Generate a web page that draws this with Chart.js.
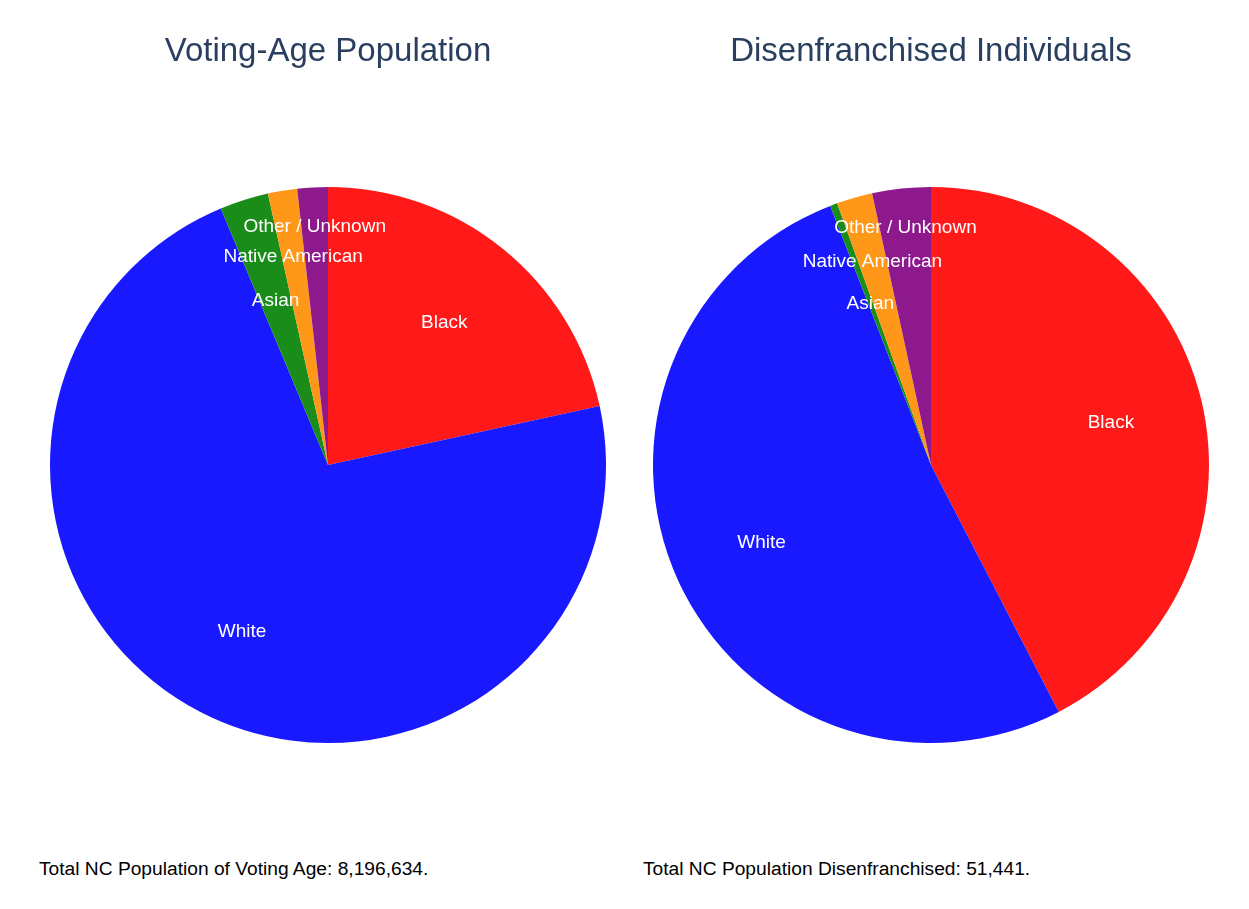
<!DOCTYPE html>
<html>
<head>
<meta charset="utf-8">
<script src="https://cdn.jsdelivr.net/npm/chart.js@4/dist/chart.umd.min.js"></script>
<style>
body{margin:0;background:#fff;font-family:"Liberation Sans",Arial,sans-serif;}
.panel{position:absolute;top:0;height:800px;}
#leftPanel{left:0;width:624px;}
#rightPanel{left:624px;width:625px;}
.note{position:absolute;top:858px;font-size:19.2px;color:#000;white-space:nowrap;}
</style>
</head>
<body>

<div class="panel" id="leftPanel"><canvas id="votingChart"></canvas></div>
<div class="panel" id="rightPanel"><canvas id="disenfranchisedChart"></canvas></div>

<div class="note" style="left:39px;">Total NC Population of Voting Age: 8,196,634.</div>
<div class="note" style="left:643px;">Total NC Population Disenfranchised: 51,441.</div>

<script>

// -------------------------------------
// DATA (share of each group, %)
// -------------------------------------

const groups = ["Black", "White", "Asian", "Native American", "Other / Unknown"];

const votingAgeShare = [21.6, 72.1, 2.83, 1.7, 1.77];
const disenfranchisedShare = [42.4, 51.7, 0.42, 2.08, 3.4];

const groupColors = ["#ff1919", "#1919ff", "#198c19", "#ff9719", "#8d198d"];


// -------------------------------------
// SLICE LABELS (text inside the slices)
// -------------------------------------

const sliceLabels = {

id: "sliceLabels",

afterDatasetsDraw(chart, args, opts){

const ctx = chart.ctx;
const meta = chart.getDatasetMeta(0);
const names = chart.data.labels;

ctx.save();
ctx.font = "19px 'Liberation Sans', Arial, sans-serif";
ctx.fillStyle = "#ffffff";
ctx.textAlign = "center";
ctx.textBaseline = "middle";

meta.data.forEach((arc, i) => {

const p = arc.getProps(["x", "y", "startAngle", "endAngle", "outerRadius"], true);
const mid = (p.startAngle + p.endAngle) / 2;
const r = p.outerRadius * opts.radius[i];

ctx.fillText(names[i], p.x + Math.cos(mid) * r, p.y + Math.sin(mid) * r + 1.5);

});

ctx.restore();

}

};


// -------------------------------------
// PIE BUILDER
// -------------------------------------

function buildPie(canvasId, title, values, padLeft, padRight){

const ctx = document.getElementById(canvasId).getContext("2d");

return new Chart(ctx, {

type: "pie",

data: {
labels: groups,
datasets: [{
data: values,
backgroundColor: groupColors,
borderWidth: 0,
hoverOffset: 0
}]
},

options: {
responsive: true,
maintainAspectRatio: false,
animation: false,
layout: {
padding: { left: padLeft, right: padRight, top: 0, bottom: 57 }
},
plugins: {
legend: { display: false },
tooltip: { enabled: false },
title: {
display: true,
text: title,
color: "#2a3f5f",
font: { family: "'Liberation Sans', Arial, sans-serif", size: 33, weight: "normal", lineHeight: 1.2 },
padding: { top: 32, bottom: 115.4 }
},
sliceLabels: {
radius: [0.666, 0.669, 0.624, 0.766, 0.863]
}
}
},

plugins: [sliceLabels]

});

}


buildPie("votingChart", "Voting-Age Population", votingAgeShare, 50, 18);
buildPie("disenfranchisedChart", "Disenfranchised Individuals", disenfranchisedShare, 29, 40);

</script>
</body>
</html>
